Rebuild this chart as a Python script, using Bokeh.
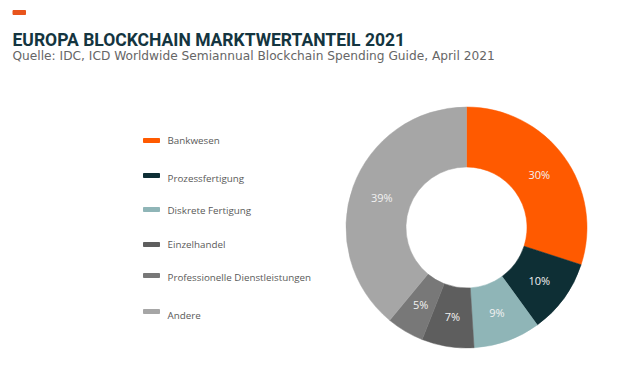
import numpy as np
from bokeh.plotting import figure
from bokeh.models import Range1d, ColumnDataSource
from bokeh.core.properties import value
from bokeh.embed import file_html
from bokeh.resources import INLINE

# ---- data ----
categories = ["Bankwesen", "Prozessfertigung", "Diskrete Fertigung",
              "Einzelhandel", "Professionelle Dienstleistungen", "Andere"]
shares = [30, 10, 9, 7, 5, 39]
colors = ["#FF5A00", "#0E2F35", "#8FB5B7", "#5E5E5E", "#787878", "#A6A6A6"]
title_text = "EUROPA BLOCKCHAIN MARKTWERTANTEIL 2021"
subtitle_text = "Quelle: IDC, ICD Worldwide Semiannual Blockchain Spending Guide, April 2021"

# ---- layout ----
W, H = 612, 372
CX, CY = 466, H - 227
R_OUT, R_IN = 120.5, 60.5
R_LBL = 90

p = figure(width=W, height=H, output_backend="svg", toolbar_location=None,
           x_range=Range1d(0, W), y_range=Range1d(0, H), min_border=0)
p.axis.visible = False
p.grid.visible = False
p.outline_line_color = None
p.background_fill_color = "white"
p.border_fill_color = "white"

vals = np.array(shares, dtype=float)
frac = vals / vals.sum()
cum = np.concatenate([[0], np.cumsum(frac)])
start = np.pi / 2 - 2 * np.pi * cum[:-1]
end = np.pi / 2 - 2 * np.pi * cum[1:]
mid = (start + end) / 2

src = ColumnDataSource(dict(start=start, end=end, color=colors,
                            lx=CX + R_LBL * np.cos(mid), ly=CY + R_LBL * np.sin(mid),
                            lbl=[f"{v}%" for v in shares]))
p.annular_wedge(x=CX, y=CY, inner_radius=R_IN, outer_radius=R_OUT,
                start_angle="start", end_angle="end", direction="clock",
                color="color", line_color="color", line_width=0.5, source=src)
p.text(x="lx", y="ly", text="lbl", source=src, text_color="#F2F2F2",
       text_font=value("Open Sans"), text_font_size="11px",
       text_align="center", text_baseline="middle")

# title decoration
p.quad(left=[12.5], right=[25], bottom=[H - 14], top=[H - 10], color="#E8541C")
p.text(x=[12], y=[H - 39], text=[title_text],
       text_font=value("Roboto"),
       text_font_style="bold", text_font_size="17.5px", text_color="#143540",
       text_baseline="alphabetic")
p.text(x=[12], y=[H - 55], text=[subtitle_text], text_font=value("DejaVu Sans"),
       text_font_size="12.2px", text_color="#666666", text_baseline="alphabetic")

# legend
marker_y = [H - y for y in [140, 175, 209, 244, 275, 311]]
text_y = [H - y for y in [140, 178, 210, 244, 277, 315]]
lsrc = ColumnDataSource(dict(my=marker_y, ty=text_y, color=colors, name=categories))
p.rect(x=151, y="my", width=16, height=4, color="color", source=lsrc)
p.text(x=167, y="ty", text="name", source=lsrc, text_color="#595959",
       text_font=value("Open Sans"), text_font_size="9.8px", text_baseline="middle")

open("out.html", "w").write(file_html(p, INLINE))
